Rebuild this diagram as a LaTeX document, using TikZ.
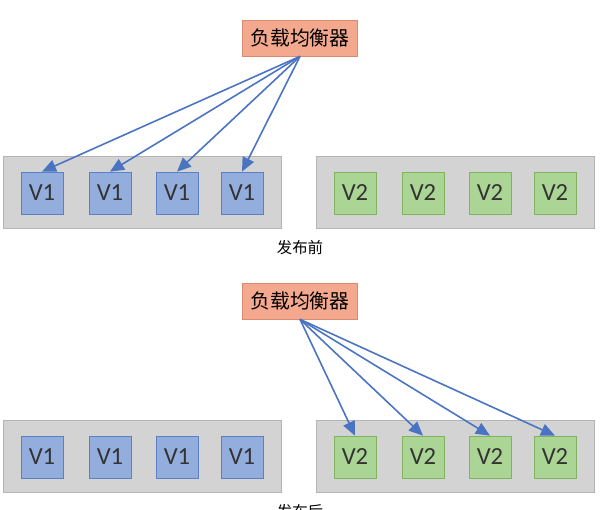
\documentclass[tikz,border=0pt]{standalone}
\usepackage{fontspec}
\setmainfont{Carlito}
\newfontfamily\cjk{Noto Sans CJK SC}
\usetikzlibrary{arrows.meta}
\definecolor{lbfill}{HTML}{F4A98E}
\definecolor{lbline}{HTML}{D98A70}
\definecolor{grpfill}{HTML}{D3D3D3}
\definecolor{grpline}{HTML}{B4B4B4}
\definecolor{vonefill}{HTML}{93AEDD}
\definecolor{voneline}{HTML}{5B80C6}
\definecolor{vtwofill}{HTML}{ABD595}
\definecolor{vtwoline}{HTML}{7FB360}
\definecolor{arrblue}{HTML}{4A74C2}
\begin{document}
\begin{tikzpicture}[x=0.02cm,y=-0.02cm,
  lb/.style={draw=lbline,fill=lbfill,minimum width=2.3cm,minimum height=0.72cm,inner sep=0pt,font=\cjk\fontsize{11.3}{13}\selectfont},
  grp/.style={draw=grpline,fill=grpfill},
  vone/.style={draw=voneline,fill=vonefill,minimum size=0.84cm,inner sep=0pt,font=\fontsize{14}{16}\selectfont\color{black!80}},
  vtwo/.style={vone,draw=vtwoline,fill=vtwofill},
  arr/.style={-{Triangle[length=8pt,width=7pt]},line width=0.9pt,arrblue},
  caption/.style={font=\cjk\fontsize{8.8}{10}\selectfont}]
\useasboundingbox (0,0) rectangle (600,510);
% before release
\node[lb] (lbA) at (300,38) {负载均衡器};
\draw[grp] (3,156) rectangle (281,228);
\draw[grp] (316,156) rectangle (594,228);
\foreach \i/\x in {1/42,2/110,3/177,4/242} {
  \node[vone] (a\i) at (\x,193) {V1};
  \draw[arr] (lbA.south) -- (a\i.north);
}
\foreach \i/\x in {1/355,2/423,3/490,4/555}
  \node[vtwo] (b\i) at (\x,193) {V2};
\node[caption] (capA) at (300,248) {发布前};
% after release
\node[lb] (lbB) at (300,301) {负载均衡器};
\draw[grp] (3,420) rectangle (281,492);
\draw[grp] (316,420) rectangle (594,492);
\foreach \i/\x in {1/42,2/110,3/177,4/242}
  \node[vone] (c\i) at (\x,457) {V1};
\foreach \i/\x in {1/355,2/423,3/490,4/555} {
  \node[vtwo] (d\i) at (\x,457) {V2};
  \draw[arr] (lbB.south) -- (d\i.north);
}
\node[caption] (capB) at (300,512) {发布后};
\end{tikzpicture}
\end{document}
